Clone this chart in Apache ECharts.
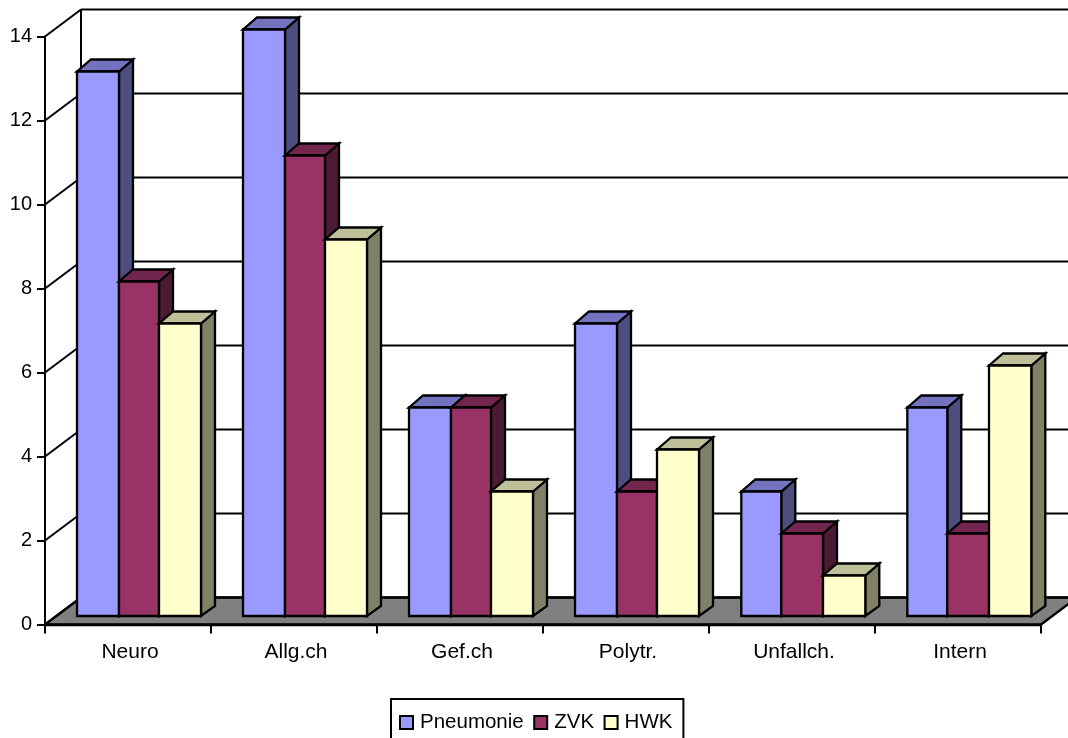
<!DOCTYPE html>
<html>
<head>
<meta charset="utf-8">
<style>html,body{margin:0;padding:0;background:#fff;overflow:hidden}#chart{width:1068px;height:738px}</style>
<script src="https://cdn.jsdelivr.net/npm/echarts@6/dist/echarts.min.js"></script>
</head>
<body>
<div id="chart"></div>
<script>
// Ward names and counts per device-associated infection type
var categories = ['Neuro', 'Allg.ch', 'Gef.ch', 'Polytr.', 'Unfallch.', 'Intern'];
var pneumonie = [13, 14, 5, 7, 3, 5];
var zvk = [8, 11, 5, 3, 2, 2];
var hwk = [7, 9, 3, 4, 1, 6];
var yTicks = [0, 2, 4, 6, 8, 10, 12, 14];

var FONT = '"Liberation Sans", Arial, sans-serif';
var INK = '#000';
var STROKE = 2.3;
// Oblique projection of the chart box and of each column
var WALL_DX = 36, WALL_DY = -27;
var BAR_DX = 14, BAR_DY = -12, BAR_FOOT_DY = -10;
var FRONT_TOP_SHIFT = -7, FRONT_BASE_SHIFT = -8.5;
var GROUP_INSET = 32;
// Pixel-snapped column edges inside a group: the later groups round the other way
var SLOT_EDGES_EARLY = [0, 42, 82, 124];
var SLOT_EDGES_LATE = [0.3, 40.3, 82, 124.3];

function edge(x1, y1, x2, y2, width) {
  return { type: 'line', shape: { x1: x1, y1: y1, x2: x2, y2: y2 },
    style: { stroke: INK, lineWidth: width || 2, fill: null } };
}

function poly(points, fill) {
  return { type: 'polygon', shape: { points: points },
    style: { fill: fill, stroke: INK, lineWidth: STROKE, lineJoin: 'miter' } };
}

function plotBounds(api) {
  var band = api.size([1, 0])[0];
  return {
    band: band,
    left: api.coord([0, 0])[0] - band / 2,
    right: api.coord([categories.length - 1, 0])[0] + band / 2,
    zero: api.coord([0, 0])[1]
  };
}

function renderFloor(params, api) {
  var b = plotBounds(api);
  return poly([
    [b.left, b.zero],
    [b.left + WALL_DX, b.zero + WALL_DY],
    [b.right + WALL_DX, b.zero + WALL_DY],
    [b.right, b.zero]
  ], '#808080');
}

function renderWallLine(params, api) {
  var b = plotBounds(api);
  var y = api.coord([0, api.value(0)])[1];
  var backX = b.left + WALL_DX, backY = y + WALL_DY;
  var parts = [
    edge(b.left, y, backX, backY),
    edge(backX, backY, b.right + WALL_DX, backY)
  ];
  if (params.dataIndex === yTicks.length - 1) {
    parts.push(edge(backX, backY, backX, b.zero + WALL_DY));
  }
  return { type: 'group', children: parts };
}

function columnRenderer(slot, front, top, side) {
  return function (params, api) {
    var b = plotBounds(api);
    var cat = api.value(0);
    var edges = cat < 4 ? SLOT_EDGES_EARLY : SLOT_EDGES_LATE;
    var groupLeft = api.coord([cat, 0])[0] - b.band / 2 + GROUP_INSET;
    var x0 = groupLeft + edges[slot];
    var x1 = groupLeft + edges[slot + 1];
    var yTop = api.coord([cat, api.value(1)])[1] + FRONT_TOP_SHIFT;
    var yBase = b.zero + FRONT_BASE_SHIFT;
    return { type: 'group', children: [
      poly([[x1, yTop], [x1 + BAR_DX, yTop + BAR_DY], [x1 + BAR_DX, yBase + BAR_FOOT_DY], [x1, yBase]], side),
      poly([[x0, yTop], [x0 + BAR_DX, yTop + BAR_DY], [x1 + BAR_DX, yTop + BAR_DY], [x1, yTop]], top),
      poly([[x0, yTop], [x1, yTop], [x1, yBase], [x0, yBase]], front)
    ] };
  };
}

function columnSeries(name, values, slot, front, top, side) {
  return {
    name: name, type: 'custom', xAxisIndex: 0, yAxisIndex: 0, z: 5,
    encode: { x: 0, y: 1 },
    itemStyle: { color: front, borderColor: INK, borderWidth: 2 },
    data: values.map(function (v, i) { return [i, v]; }),
    renderItem: columnRenderer(slot, front, top, side)
  };
}

var chart = echarts.init(document.getElementById('chart'), null, { renderer: 'canvas' });
chart.setOption({
  animation: false,
  backgroundColor: '#fff',
  grid: { left: 45, right: 27, top: 36.5, bottom: 113.5, containLabel: false },
  xAxis: {
    type: 'category', data: categories, z: 6,
    axisLine: { show: true, lineStyle: { color: INK, width: 2.3 } },
    axisTick: { show: true, length: 9, lineStyle: { color: INK, width: 2 } },
    axisLabel: { color: '#000', fontFamily: FONT, fontSize: 21, margin: 17, padding: [0, 0, 0, 4] },
    splitLine: { show: false }
  },
  yAxis: {
    type: 'value', min: 0, max: 14, interval: 2, z: 6,
    axisLine: { show: true, lineStyle: { color: INK, width: 2 } },
    axisTick: { show: true, length: 8, lineStyle: { color: INK, width: 2 } },
    axisLabel: { color: '#000', fontFamily: FONT, fontSize: 20, margin: 13 },
    splitLine: { show: false }
  },
  legend: {
    left: 391, top: 699, orient: 'horizontal', selectedMode: false,
    data: [
      { name: 'Pneumonie' },
      { name: 'ZVK', textStyle: { color: '#000', fontFamily: FONT, fontSize: 20.5, padding: [0, 5, 0, 2] } },
      { name: 'HWK' }
    ],
    icon: 'rect', itemWidth: 13, itemHeight: 13, itemGap: 9.5,
    padding: [13, 11, 30, 8],
    borderColor: INK, borderWidth: 2, backgroundColor: '#fff',
    textStyle: { color: '#000', fontFamily: FONT, fontSize: 20.5, padding: [0, 0, 0, 2] }
  },
  series: [
    { type: 'custom', z: 1, silent: true, data: [[0, 0]], renderItem: renderFloor },
    { type: 'custom', z: 2, silent: true, data: yTicks.map(function (v) { return [v]; }),
      encode: { y: 0 }, renderItem: renderWallLine },
    columnSeries('Pneumonie', pneumonie, 0, '#9999FF', '#7373BF', '#4D4D80'),
    columnSeries('ZVK', zvk, 1, '#993366', '#73264D', '#4D1A33'),
    columnSeries('HWK', hwk, 2, '#FFFFCC', '#BFBF99', '#808066')
  ]
});
</script>
</body>
</html>
